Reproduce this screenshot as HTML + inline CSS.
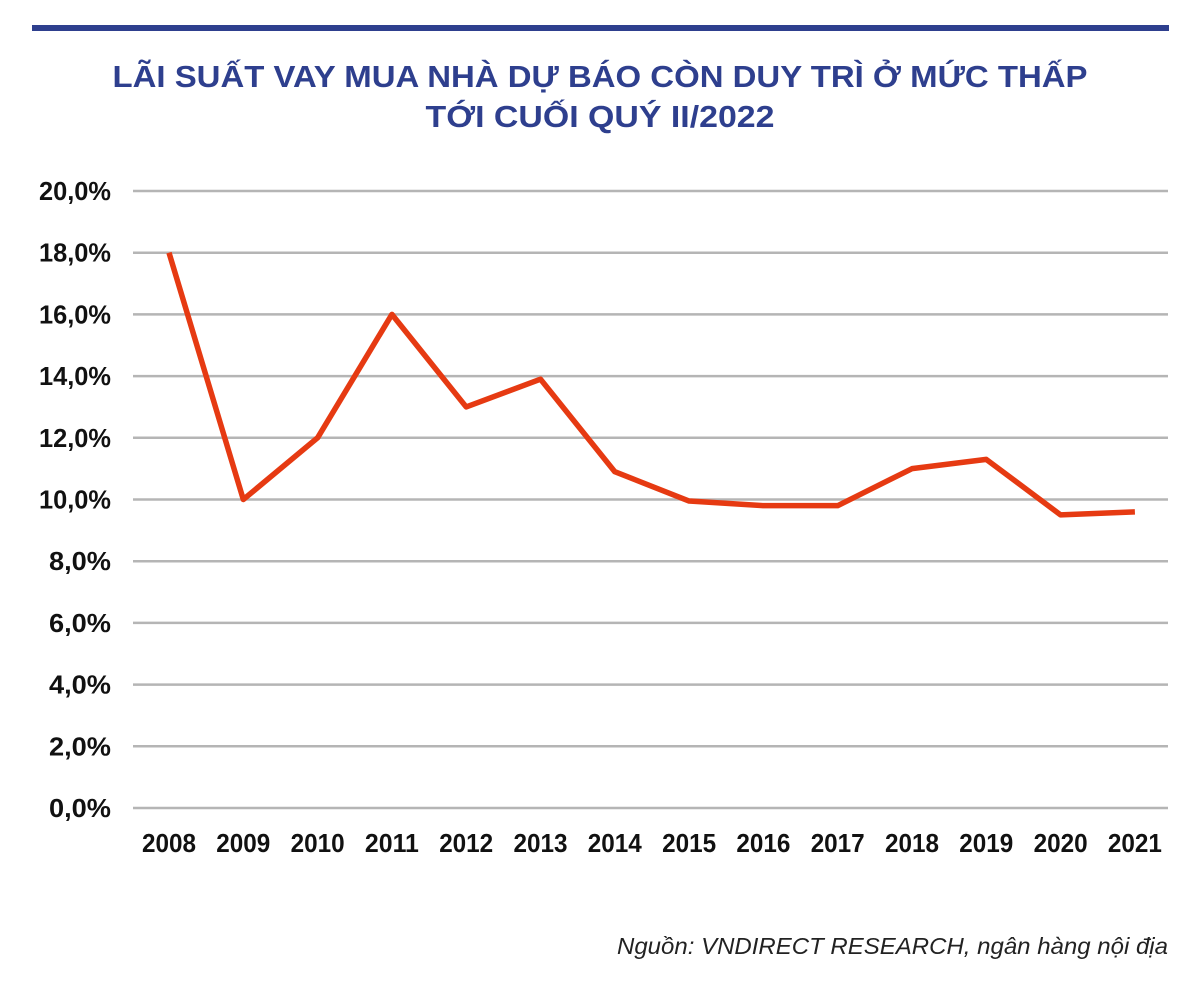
<!DOCTYPE html>
<html><head><meta charset="utf-8"><style>
body{margin:0;background:#fff;width:1200px;height:989px;overflow:hidden;font-family:"Liberation Sans",sans-serif}
</style></head><body>
<svg width="1200" height="989" xmlns="http://www.w3.org/2000/svg">
<rect x="32" y="25" width="1137" height="6" fill="#2e3f8e"/>
<text x="600" y="87" text-anchor="middle" font-size="31" font-weight="bold" fill="#2e3f8e" textLength="975" lengthAdjust="spacingAndGlyphs">LÃI SUẤT VAY MUA NHÀ DỰ BÁO CÒN DUY TRÌ Ở MỨC THẤP</text>
<text x="600" y="127" text-anchor="middle" font-size="31" font-weight="bold" fill="#2e3f8e" textLength="349" lengthAdjust="spacingAndGlyphs">TỚI CUỐI QUÝ II/2022</text>
<g id="grid"></g><g id="ylab"></g><g id="xlab"></g>
<polyline id="line" fill="none" stroke="#e63a12" stroke-width="5.5" stroke-linejoin="round"/>
<text x="1168" y="954" text-anchor="end" font-size="23" font-style="italic" fill="#222" textLength="551" lengthAdjust="spacingAndGlyphs">Nguồn: VNDIRECT RESEARCH, ngân hàng nội địa</text>
</svg>
<script>
const years=["2008","2009","2010","2011","2012","2013","2014","2015","2016","2017","2018","2019","2020","2021"];
const rates=[18.0,10.0,12.0,16.0,13.0,13.9,10.9,9.95,9.8,9.8,11.0,11.3,9.5,9.6];
const yTicks=[0,2,4,6,8,10,12,14,16,18,20];
const NS="http://www.w3.org/2000/svg";
const y=v=>808-v*30.85;
const x=i=>169+i*74.3;
const g=document.getElementById('grid'),yl=document.getElementById('ylab'),xl=document.getElementById('xlab');
yTicks.forEach(t=>{
 const l=document.createElementNS(NS,'line');
 l.setAttribute('x1',133);l.setAttribute('x2',1168);l.setAttribute('y1',y(t));l.setAttribute('y2',y(t));
 l.setAttribute('stroke','#b5b5b5');l.setAttribute('stroke-width','2.5');
 
 
 g.appendChild(l);
 const s=document.createElementNS(NS,'text');
 s.setAttribute('x',111);s.setAttribute('y',y(t)+9);s.setAttribute('text-anchor','end');
 s.setAttribute('font-size','26');s.setAttribute('font-weight','bold');s.setAttribute('fill','#111');
 s.setAttribute('textLength',t>=10?'72':'62');s.setAttribute('lengthAdjust','spacingAndGlyphs');
 s.textContent=t.toFixed(1).replace('.',',')+'%';
 
 
 yl.appendChild(s);
});
years.forEach((yr,i)=>{
 const s=document.createElementNS(NS,'text');
 s.setAttribute('x',x(i));s.setAttribute('y',852);s.setAttribute('text-anchor','middle');
 s.setAttribute('font-size','26');s.setAttribute('font-weight','bold');s.setAttribute('fill','#111');
 s.setAttribute('textLength','54');s.setAttribute('lengthAdjust','spacingAndGlyphs');
 s.textContent=yr;
 
 
 xl.appendChild(s);
});
document.getElementById('line').setAttribute('points',rates.map((v,i)=>x(i)+','+y(v)).join(' '));
</script>
</body></html>
